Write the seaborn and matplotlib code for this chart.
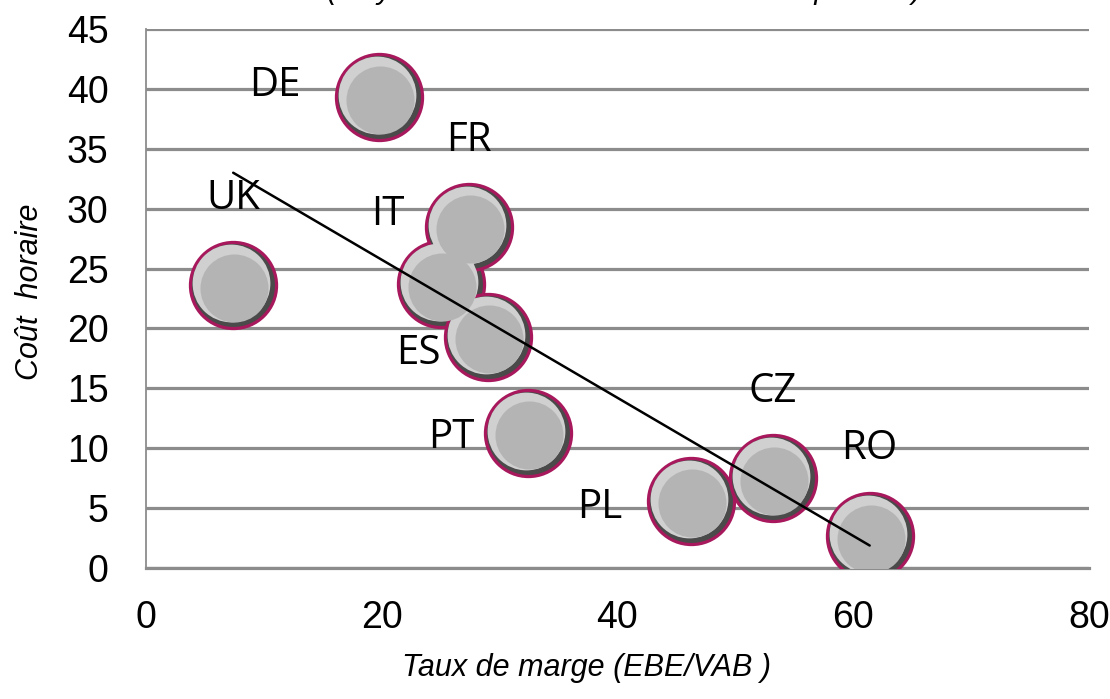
import numpy as np
import pandas as pd
import matplotlib
matplotlib.use("Agg")
import matplotlib.pyplot as plt
import matplotlib.transforms as mtransforms
import seaborn as sns

# values
pays = ["UK", "DE", "IT", "FR", "ES", "PT", "PL", "CZ", "RO"]
taux_marge = [7.4, 19.8, 25.0, 27.4, 29.0, 32.4, 46.2, 53.2, 61.4]
cout_horaire = [23.6, 39.3, 23.7, 28.5, 19.3, 11.3, 5.6, 7.5, 2.65]

x_ticks = [0, 20, 40, 60, 80]
y_ticks = [0, 5, 10, 15, 20, 25, 30, 35, 40, 45]

# label offsets (points) around each bubble
label_dx = [0, -75, -38, 0, -50, -55, -65, 0, 0]
label_dy = [62, 8, 50, 62, -12, -4, -5, 62, 63]

df = pd.DataFrame({"pays": pays, "x": taux_marge, "y": cout_horaire})

sns.set_theme(style="white")
plt.rcParams["font.family"] = ["Liberation Sans", "DejaVu Sans"]
plt.rcParams["text.color"] = "black"
plt.rcParams["axes.labelcolor"] = "black"
plt.rcParams["xtick.color"] = "black"
plt.rcParams["ytick.color"] = "black"

fig = plt.figure(figsize=(11.1, 6.99), dpi=100)
ax = fig.add_axes([0.1315, 0.1874, 0.8495, 0.7711])

# grid lines
for v in y_ticks:
    ax.axhline(v, color="#8c8c8c", lw=2.3, zorder=1)

# bubbles: a few stacked discs for a shaded look
def shifted(dx, dy):
    return mtransforms.offset_copy(ax.transData, fig=fig, x=dx, y=dy, units="points")

sns.scatterplot(data=df, x="x", y="y", s=(2 * 31) ** 2, color="#4a4a4a",
                edgecolor="#a8185c", linewidth=2.3, ax=ax, zorder=3, legend=False)
sns.scatterplot(data=df, x="x", y="y", s=(2 * 28) ** 2, color="#d0d0d0",
                linewidth=0, ax=ax, zorder=4, legend=False, transform=shifted(-1.4, 1.4))
sns.scatterplot(data=df, x="x", y="y", s=(2 * 24.5) ** 2, color="#b4b4b4",
                linewidth=0, ax=ax, zorder=5, legend=False, transform=shifted(0.8, -1.8))

# linear trend line over the data range
a, b = np.polyfit(df["x"], df["y"], 1)
tx = np.array([df["x"].min(), df["x"].max()])
sns.lineplot(x=tx, y=a * tx + b, color="black", lw=1.8, ax=ax, zorder=6)

# country labels
for i, p in enumerate(pays):
    ax.annotate(p, (taux_marge[i], cout_horaire[i]), xytext=(label_dx[i], label_dy[i]),
                textcoords="offset points", ha="center", va="center",
                fontsize=29, family=["Open Sans", "DejaVu Sans"], color="black", zorder=7)

ax.set_xlim(0, 80)
ax.set_ylim(0, 45)
ax.set_xticks(x_ticks)
ax.set_yticks(y_ticks)
ax.tick_params(axis="both", length=0, labelsize=27)
ax.tick_params(axis="y", pad=27)
ax.tick_params(axis="x", pad=23)

for s in ["top", "right"]:
    ax.spines[s].set_visible(False)
ax.spines["left"].set_color("#8c8c8c")
ax.spines["left"].set_linewidth(1.3)
ax.spines["bottom"].set_color("#8c8c8c")
ax.spines["bottom"].set_linewidth(2.3)

ax.set_xlabel("Taux de marge (EBE/VAB )", fontsize=22, style="italic")
ax.set_ylabel("Coût  horaire", fontsize=22, style="italic")
ax.xaxis.set_label_coords(0.467, -0.158)
ax.yaxis.set_label_coords(-0.107, 0.512)

# title, mostly cut off by the top of the picture
fig.text(327 / 1110, 1 + 1 / 699, "(moyenne 2000-2012 en euros sur la période)",
         ha="left", va="baseline", fontsize=21, style="italic")

fig.savefig("out.png", dpi=100)
